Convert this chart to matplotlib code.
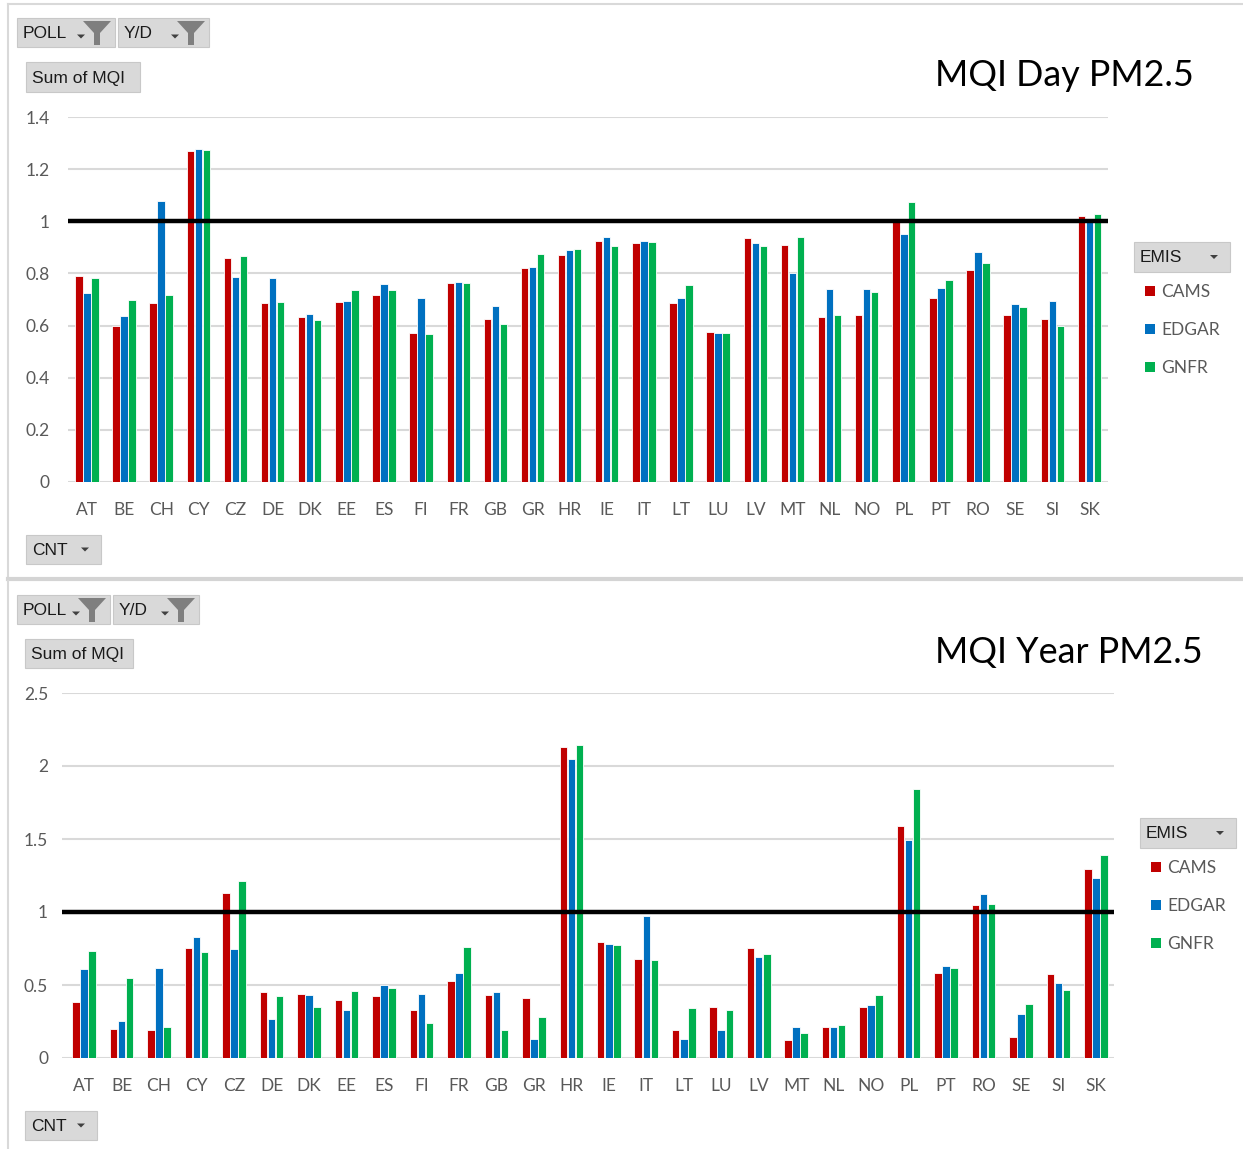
import numpy as np
import matplotlib
matplotlib.use('Agg')
import matplotlib.pyplot as plt
from matplotlib.patches import Rectangle, Polygon

plt.rcParams['font.family'] = ['Lato', 'DejaVu Sans']

countries = ['AT', 'BE', 'CH', 'CY', 'CZ', 'DE', 'DK', 'EE', 'ES', 'FI', 'FR', 'GB', 'GR', 'HR',
             'IE', 'IT', 'LT', 'LU', 'LV', 'MT', 'NL', 'NO', 'PL', 'PT', 'RO', 'SE', 'SI', 'SK']
emis = ['CAMS', 'EDGAR', 'GNFR']
colors = ['#C00000', '#0070C0', '#00B050']

# MQI, daily PM2.5
day_cams = [0.79, 0.60, 0.687, 1.271, 0.86, 0.687, 0.633, 0.691, 0.716, 0.572, 0.765, 0.625, 0.819, 0.872,
            0.926, 0.917, 0.687, 0.576, 0.934, 0.908, 0.633, 0.642, 1.0, 0.704, 0.814, 0.642, 0.626, 1.019]
day_edgar = [0.724, 0.638, 1.077, 1.278, 0.787, 0.782, 0.646, 0.696, 0.761, 0.704, 0.769, 0.674, 0.826, 0.889,
             0.941, 0.926, 0.704, 0.572, 0.917, 0.802, 0.739, 0.739, 0.95, 0.745, 0.884, 0.683, 0.695, 1.0]
day_gnfr = [0.782, 0.699, 0.716, 1.275, 0.867, 0.691, 0.621, 0.736, 0.736, 0.567, 0.765, 0.605, 0.876, 0.893,
            0.904, 0.921, 0.757, 0.572, 0.904, 0.941, 0.642, 0.728, 1.073, 0.773, 0.839, 0.670, 0.598, 1.028]

# MQI, yearly PM2.5
year_cams = [0.386, 0.196, 0.189, 0.753, 1.128, 0.452, 0.438, 0.395, 0.425, 0.329, 0.525, 0.432, 0.409, 2.132,
             0.797, 0.680, 0.189, 0.349, 0.753, 0.123, 0.21, 0.349, 1.589, 0.584, 1.046, 0.144, 0.578, 1.295]
year_edgar = [0.607, 0.253, 0.614, 0.826, 0.747, 0.267, 0.432, 0.329, 0.498, 0.438, 0.584, 0.452, 0.13, 2.046,
              0.781, 0.975, 0.13, 0.189, 0.694, 0.21, 0.21, 0.365, 1.493, 0.628, 1.121, 0.299, 0.511, 1.231]
year_gnfr = [0.731, 0.548, 0.21, 0.724, 1.215, 0.425, 0.349, 0.459, 0.482, 0.24, 0.76, 0.189, 0.283, 2.142,
             0.774, 0.673, 0.342, 0.329, 0.710, 0.174, 0.226, 0.432, 1.840, 0.614, 1.055, 0.372, 0.468, 1.390]

W, H = 1243, 1149
fig = plt.figure(figsize=(W / 100, H / 100), dpi=100)

# pixel-space overlay for the pivot-chart decorations
bg = fig.add_axes([0, 0, 1, 1], zorder=0)
bg.set_xlim(0, W)
bg.set_ylim(H, 0)
bg.axis('off')

# outer frames
bg.plot([8, W], [4, 4], color='#d9d9d9', lw=1.5)
bg.plot([8, 8], [4, 578], color='#d9d9d9', lw=1.5)
bg.plot([8, W], [579, 579], color='#d4d4d4', lw=3)
bg.plot([8, 8], [581, H], color='#d9d9d9', lw=1.5)


def button(x0, y0, w, h, label, arrow=False, funnel=False, fs=12.5):
    bg.add_patch(Rectangle((x0, y0), w, h, facecolor='#d9d9d9', edgecolor='#c8c8c8', lw=0.8))
    bg.text(x0 + 6, y0 + h / 2 + 1, label, fontsize=fs, va='center', ha='left', color='#1a1a1a',
            family=['Liberation Sans', 'DejaVu Sans'])
    if arrow:
        ax_ = x0 + w - 16 if not funnel else x0 + w - 34
        ay = y0 + h / 2 + 4 if funnel else y0 + h / 2
        bg.add_patch(Polygon([[ax_ - 4, ay - 2], [ax_ + 4, ay - 2], [ax_, ay + 2]], closed=True,
                             facecolor='#404040', edgecolor='none'))
    if funnel:
        fx = x0 + w - 18
        bg.add_patch(Polygon([[fx - 14, y0 + 3], [fx + 14, y0 + 3], [fx + 3, y0 + 15],
                              [fx + 3, y0 + h - 2], [fx - 3, y0 + h - 2], [fx - 3, y0 + 15]],
                             closed=True, facecolor='#7f7f7f', edgecolor='none'))


def panel(rect, vals, ymax, ystep, xlim, title, title_xy, top, pad_y):
    ax = fig.add_axes(rect, zorder=2)
    ax.patch.set_alpha(0)
    x = np.arange(len(countries))
    bw = 0.2
    for i, (v, c) in enumerate(zip(vals, colors)):
        ax.bar(x + (i - 1) * 0.215, v, width=bw, color=c, edgecolor='white', linewidth=0.6,
               zorder=3, label=emis[i])
    ax.axhline(1, color='black', lw=3.2, zorder=4)
    ax.set_ylim(0, ymax)
    ax.set_xlim(*xlim)
    ax.set_yticks(np.arange(0, ymax + 1e-9, ystep))
    ax.set_yticklabels([('%g' % t) for t in np.arange(0, ymax + 1e-9, ystep)])
    ax.yaxis.grid(True, color='#d9d9d9', lw=1.5, zorder=0)
    ax.set_axisbelow(True)
    for s in ax.spines.values():
        s.set_visible(False)
    ax.set_xticks(x)
    ax.set_xticklabels(countries)
    ax.tick_params(axis='both', length=0, labelsize=12.5, labelcolor='#595959')
    ax.tick_params(axis='y', pad=pad_y)
    ax.tick_params(axis='x', pad=14.5)
    fig.text(title_xy[0] / W, 1 - title_xy[1] / H, title, fontsize=25.8, ha='left', va='center',
             color='black')
    # legend block
    lx = rect[0] * W + rect[2] * W + 26
    button(lx, top + 125, 96, 30, 'EMIS', arrow=True)
    for i, (e, c) in enumerate(zip(emis, colors)):
        yy = top + 174 + i * 38
        bg.add_patch(Rectangle((lx + 11, yy - 5), 10, 10, facecolor=c, edgecolor='none'))
        bg.text(lx + 27, yy + 1, e, fontsize=12.5, va='center', ha='left', color='#595959')
    return ax


# top panel: daily
button(17, 18, 98, 29, 'POLL', arrow=True, funnel=True)
button(118, 18, 91, 29, 'Y/D', arrow=True, funnel=True)
button(26, 62, 114, 30, 'Sum of MQI')
button(26, 535, 75, 29, 'CNT', arrow=True)
panel([68 / W, 1 - 482 / H, 1040 / W, 365 / H], [day_cams, day_edgar, day_gnfr], 1.4, 0.2,
      (-0.51, 27.5), 'MQI Day PM2.5', (935, 75), 117, 13)

# bottom panel: yearly
button(17, 595, 93, 29, 'POLL', arrow=True, funnel=True)
button(113, 595, 86, 29, 'Y/D', arrow=True, funnel=True)
button(25, 639, 108, 29, 'Sum of MQI')
button(25, 1111, 72, 29, 'CNT', arrow=True)
panel([62 / W, 1 - 1058 / H, 1052 / W, 365 / H], [year_cams, year_edgar, year_gnfr], 2.5, 0.5,
      (-0.59, 27.48), 'MQI Year PM2.5', (935, 652), 693, 10)

fig.savefig('out.png', dpi=100)
